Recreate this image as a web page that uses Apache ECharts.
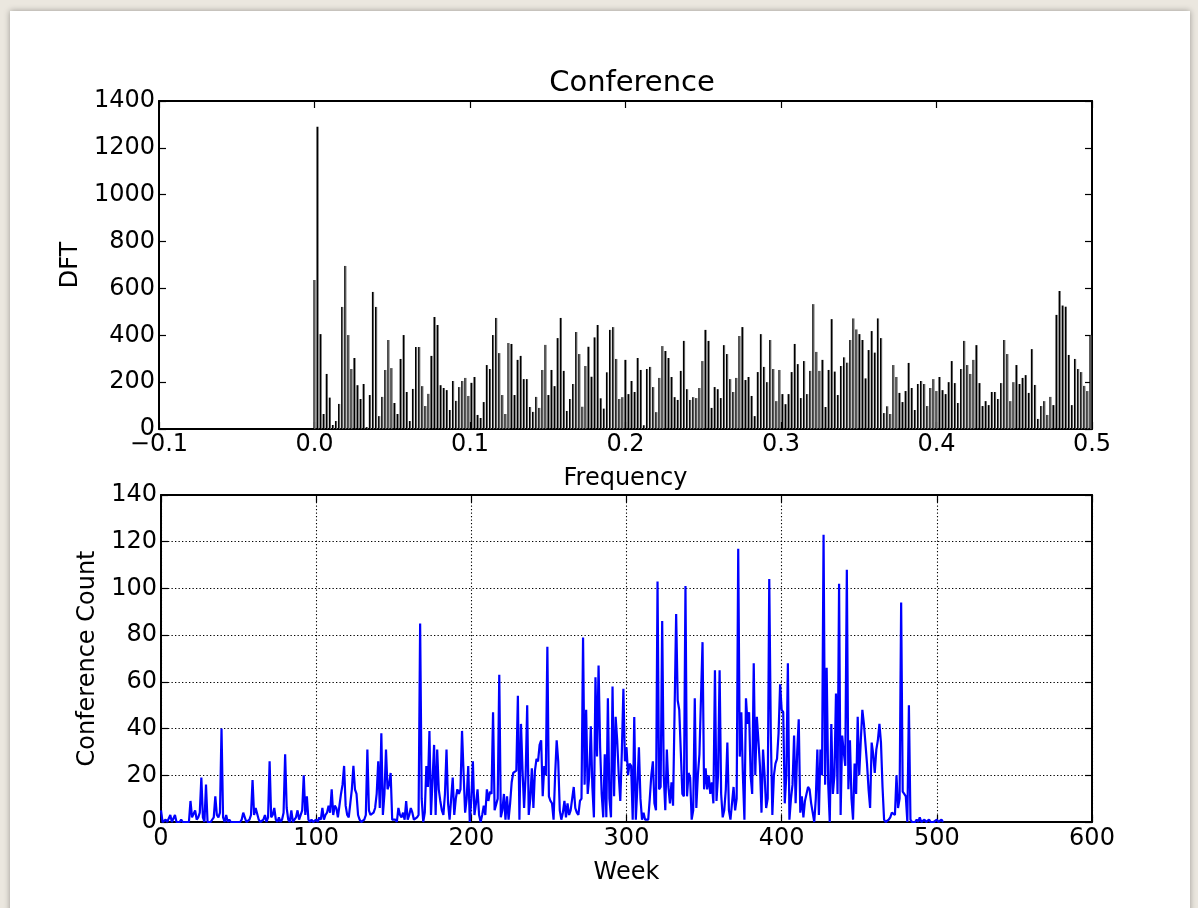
<!DOCTYPE html>
<html>
<head>
<meta charset="utf-8">
<title>Conference</title>
<script src="https://cdn.jsdelivr.net/npm/echarts@6/dist/echarts.min.js"></script>
<style>
  html, body { margin: 0; padding: 0; width: 1198px; height: 908px; overflow: hidden; background: #ebe7df; }
  #card { position: absolute; left: 10px; top: 11px; width: 1180px; height: 920px; background: #ffffff;
          box-shadow: 0 0 6px rgba(0, 0, 0, 0.35); }
  #chart { position: absolute; left: 0; top: 0; width: 1198px; height: 908px; }
</style>
</head>
<body>
<div id="card"></div>
<div id="chart"></div>
<script>
// Weekly conference counts, week 0 .. 504
const weeklyCounts = [
  5,0,0,1,0,0,3,0,0,3,  0,0,0,1,0,0,0,0,0,9,  2,2,5,1,2,4,19,2,0,16,  0,0,0,0,2,11,3,2,4,40,
  2,0,3,0,1,0,0,0,0,0,  0,0,1,4,2,0,0,1,3,18,  3,6,6,1,0,0,1,3,0,2,  26,2,3,6,1,0,2,0,1,4,
  29,6,1,0,5,0,1,2,5,1,  1,5,20,3,11,1,0,1,0,0,  1,0,2,1,6,1,3,4,7,4,  14,3,7,6,2,7,12,16,24,7,
  3,2,8,14,24,14,12,3,1,0,  0,1,3,31,5,3,3,4,6,12,  26,6,38,3,12,31,14,16,21,1,  1,1,0,6,3,2,4,1,9,1,
  3,6,4,1,1,2,3,85,10,0,  4,24,15,39,3,18,33,3,31,14,  9,5,3,12,31,8,1,10,19,3,  10,14,12,14,39,21,4,10,24,0,
  10,26,3,8,14,3,0,3,7,3,  14,9,13,12,47,5,5,10,63,2,  5,12,1,11,1,8,17,21,21,22,  54,1,42,22,6,20,50,3,10,23,
  6,22,27,26,33,35,11,24,20,75,  11,9,8,1,20,35,26,5,1,4,  9,2,8,3,5,10,15,6,4,3,  9,10,79,16,48,12,20,41,15,2,
  62,28,67,32,12,2,29,2,53,10,  2,58,11,45,35,20,9,30,57,26,  32,20,25,24,1,45,1,15,32,10,  1,4,1,1,1,10,20,26,8,5,
  103,14,15,86,20,5,31,15,8,17,  7,7,89,52,48,30,12,11,101,11,  21,19,1,5,53,6,20,29,29,77,  14,23,14,20,12,17,8,65,9,20,
  65,12,2,5,14,34,5,1,1,15,  5,10,117,28,47,20,1,53,42,47,  20,12,68,20,45,35,24,4,31,20,  6,10,104,38,3,20,25,27,38,59,
  48,47,8,20,68,1,10,16,37,8,  30,44,4,11,2,9,12,15,14,8,  4,0,10,31,3,31,20,123,16,66,  16,0,42,12,20,55,12,102,3,37,
  30,24,108,14,35,10,1,25,12,45,  20,35,48,42,42,25,14,6,34,29,  21,31,35,42,34,15,1,0,0,1,  2,4,4,3,20,6,10,94,13,12,
  11,0,50,1,0,0,0,1,0,2,  0,0,1,0,0,1,0,0,0,0,  1,0,0,1,0
];

// DFT magnitude for the non-negative frequency bins 0 .. 252
const dftMagnitude = [
  636,1290,405,64,235,134,17,34,107,521,  696,401,256,303,187,128,192,8,145,585,
  521,55,137,252,380,260,111,64,299,401,  158,34,171,350,350,183,98,150,312,478,
  444,187,175,166,81,205,120,179,205,218,  141,197,222,60,47,115,273,256,401,474,
  324,145,64,367,363,145,295,312,213,213,  94,73,137,90,252,359,145,252,183,388,
  474,248,77,128,192,414,320,95,269,351,  223,391,444,131,87,242,423,435,299,128,
  136,295,149,205,158,303,252,16,256,265,  179,72,218,354,333,303,222,136,124,248,
  376,170,124,136,132,175,290,423,376,90,  179,170,132,358,320,213,158,218,397,435,
  209,222,141,55,243,405,265,200,380,256,  119,252,149,106,149,243,363,277,132,290,
  149,248,533,329,248,295,94,252,469,245,  145,269,306,283,380,472,425,405,380,216,
  337,418,326,472,388,68,97,64,273,222,  154,115,162,282,175,81,192,205,192,98,
  175,213,162,222,166,149,200,290,196,111,  256,376,273,235,295,358,196,98,119,102,
  158,158,128,196,380,320,119,200,273,192,  218,230,154,341,188,43,98,119,60,137,
  102,487,589,527,522,316,102,299,256,243,  184,162,400
];

const freqTickLabels = ['\u22120.1', '0.0', '0.1', '0.2', '0.3', '0.4', '0.5'];
const dftTickLabels = ['0', '200', '400', '600', '800', '1000', '1200', '1400'];
const weekTickLabels = ['0', '100', '200', '300', '400', '500', '600'];
const countTickLabels = ['0', '20', '40', '60', '80', '100', '120', '140'];

const nWeeks = weeklyCounts.length;
const dftData = dftMagnitude.map((v, k) => [k / nWeeks, v]);
const weekData = weeklyCounts.map((v, i) => [i, v]);

const FONT = 'DejaVu Sans';
const textStyle = { color: '#000', fontFamily: FONT, fontSize: 24 };
const spine = { show: true, onZero: false, lineStyle: { color: '#000', width: 2 } };
const ticks = { show: true, inside: true, length: 7, lineStyle: { color: '#000', width: 1.2 } };
const dotted = { show: true, lineStyle: { color: '#000', width: 1.1, type: [1.3, 2.2] } };

function pick(labels, min, step) {
  return v => labels[Math.round((v - min) / step)] || '';
}

const chart = echarts.init(document.getElementById('chart'), null, { renderer: 'canvas' });

chart.setOption({
  animation: false,
  backgroundColor: 'transparent',
  title: {
    text: 'Conference', left: 627, top: 64, textAlign: 'center',
    textStyle: { color: '#000', fontFamily: FONT, fontSize: 29, fontWeight: 'normal' }
  },
  grid: [
    { left: 159, top: 101, width: 933, height: 328, show: false },
    { left: 161, top: 495, width: 931, height: 327, show: false }
  ],
  xAxis: [
    { gridIndex: 0, type: 'value', min: -0.1, max: 0.5, interval: 0.1, position: 'bottom',
      axisLine: spine, axisTick: ticks, splitLine: { show: false },
      axisLabel: Object.assign({ margin: 4, showMinLabel: true, showMaxLabel: true,
        formatter: pick(freqTickLabels, -0.1, 0.1) }, textStyle),
      name: 'Frequency', nameLocation: 'middle', nameGap: 38, nameTextStyle: textStyle },
    { gridIndex: 0, type: 'value', min: -0.1, max: 0.5, interval: 0.1, position: 'top',
      axisLine: spine, axisTick: ticks, axisLabel: { show: false }, splitLine: { show: false } },
    { gridIndex: 1, type: 'value', min: 0, max: 600, interval: 100, position: 'bottom',
      axisLine: spine, axisTick: ticks, splitLine: dotted,
      axisLabel: Object.assign({ margin: 5, showMinLabel: true, showMaxLabel: true,
        formatter: pick(weekTickLabels, 0, 100) }, textStyle),
      name: 'Week', nameLocation: 'middle', nameGap: 39, nameTextStyle: textStyle },
    { gridIndex: 1, type: 'value', min: 0, max: 600, interval: 100, position: 'top',
      axisLine: spine, axisTick: ticks, axisLabel: { show: false }, splitLine: { show: false } }
  ],
  yAxis: [
    { gridIndex: 0, type: 'value', min: 0, max: 1400, interval: 200, position: 'left',
      axisLine: spine, axisTick: ticks, splitLine: { show: false },
      axisLabel: Object.assign({ margin: 4, showMinLabel: true, showMaxLabel: true,
        formatter: pick(dftTickLabels, 0, 200) }, textStyle),
      name: 'DFT', nameLocation: 'middle', nameGap: 66, nameTextStyle: textStyle },
    { gridIndex: 0, type: 'value', min: 0, max: 1400, interval: 200, position: 'right',
      axisLine: spine, axisTick: ticks, axisLabel: { show: false }, splitLine: { show: false } },
    { gridIndex: 1, type: 'value', min: 0, max: 140, interval: 20, position: 'left',
      axisLine: spine, axisTick: ticks, splitLine: dotted,
      axisLabel: Object.assign({ margin: 4, showMinLabel: true, showMaxLabel: true,
        formatter: pick(countTickLabels, 0, 20) }, textStyle),
      name: 'Conference Count', nameLocation: 'middle', nameGap: 61, nameTextStyle: textStyle },
    { gridIndex: 1, type: 'value', min: 0, max: 140, interval: 20, position: 'right',
      axisLine: spine, axisTick: ticks, axisLabel: { show: false }, splitLine: { show: false } }
  ],
  series: [
    {
      type: 'bar', xAxisIndex: 0, yAxisIndex: 0, data: dftData,
      barWidth: 2.2, silent: true,
      itemStyle: {
        color: new echarts.graphic.LinearGradient(0, 0, 1, 0, [
          { offset: 0, color: '#000' }, { offset: 0.5, color: '#000' },
          { offset: 0.5, color: '#5a5a5a' }, { offset: 1, color: '#5a5a5a' }
        ])
      }
    },
    {
      type: 'line', xAxisIndex: 2, yAxisIndex: 2, data: weekData,
      showSymbol: false, silent: true, clip: true,
      lineStyle: { color: '#0000ff', width: 2.2 }
    }
  ]
});
</script>
</body>
</html>
